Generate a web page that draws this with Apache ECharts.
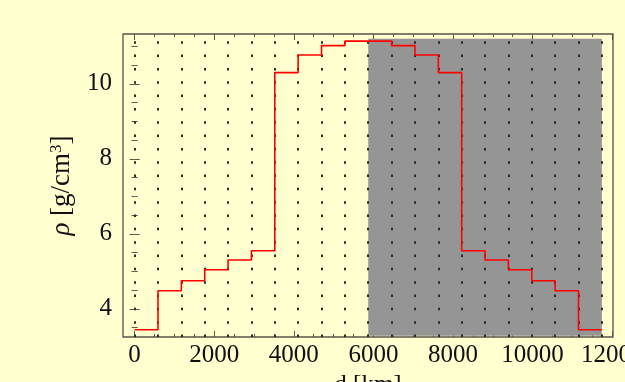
<!DOCTYPE html>
<html>
<head>
<meta charset="utf-8">
<script src="https://cdn.jsdelivr.net/npm/echarts@6/dist/echarts.min.js"></script>
<style>
html,body{margin:0;padding:0;background:#ffffd0;}
#chart{width:625px;height:382px;}
</style>
</head>
<body>
<div id="chart"></div>
<script>
// ---- data ----
const layerBoundariesKm = [0, 587, 1174, 1761, 2348, 2935, 3522, 4109, 4696, 5283, 5870,
  6457, 7044, 7631, 8218, 8805, 9392, 9979, 10566, 11153, 11740];
const layerDensity = [3.44, 4.48, 4.75, 5.04, 5.30, 5.55, 10.30, 10.77, 11.02, 11.14,
  11.14, 11.02, 10.77, 10.30, 5.55, 5.30, 5.04, 4.75, 4.48, 3.44];
const shadedFromKm = 5870;
const shadedToKm = 11740;
const shadedTop = 11.2;
const shadedBottom = 3.28;
const xTickLabels = [0, 2000, 4000, 6000, 8000, 10000, 12000];
const xMinorTicks = [500, 1000, 1500, 2500, 3000, 3500, 4500, 5000, 5500, 6500, 7000, 7500,
  8500, 9000, 9500, 10500, 11000, 11500];
const yTickLabels = [4, 6, 8, 10];
const yMinorTicks = [3.5, 4.5, 5, 5.5, 6.5, 7, 7.5, 8.5, 9, 9.5, 10.5, 11];
const xRange = [-292, 12020];
const yRange = [3.248, 11.33];

// ---- build ----
const stepPoints = layerDensity.map((v, i) => [layerBoundariesKm[i], v]);
stepPoints.push([layerBoundariesKm[layerBoundariesKm.length - 1], layerDensity[layerDensity.length - 1]]);

const FONT = 'Liberation Serif';
const frameColor = '#55554a';

function xAx(position, ticks, len, withLabels) {
  return {
    type: 'value', position: position, min: xRange[0], max: xRange[1],
    axisLine: {show: false},
    splitLine: {show: false},
    axisTick: {show: true, inside: true, length: len, customValues: ticks,
      lineStyle: {color: frameColor, width: 1}},
    axisLabel: withLabels ? {show: true, customValues: ticks, margin: 6,
      formatter: v => String(v),
      fontFamily: FONT, fontSize: 25, color: '#111'} : {show: false},
  };
}
function yAx(position, ticks, len, withLabels) {
  return {
    type: 'value', position: position, min: yRange[0], max: yRange[1],
    axisLine: {show: false},
    splitLine: {show: false},
    axisTick: {show: true, inside: true, length: len, customValues: ticks,
      lineStyle: {color: frameColor, width: 1}},
    axisLabel: withLabels ? {show: true, customValues: ticks, margin: 11,
      formatter: v => String(v),
      fontFamily: FONT, fontSize: 25, color: '#111'} : {show: false},
  };
}

const xAxes = [
  Object.assign(xAx('bottom', xTickLabels, 6, true), {
    name: 'd [km]', nameLocation: 'middle', nameGap: 35,
    nameTextStyle: {fontFamily: FONT, fontSize: 25, color: '#111'}
  }),
  xAx('bottom', xMinorTicks, 3, false),
  xAx('top', xTickLabels, 6, false),
  xAx('top', xMinorTicks, 3, false),
];
const yAxes = [
  Object.assign(yAx('left', yTickLabels, 5, true), {
    name: '{i|ρ} [g/cm{s|3}]', nameLocation: 'middle', nameGap: 48, nameRotate: 90,
    nameTextStyle: {fontFamily: FONT, fontSize: 27, color: '#111',
      rich: {
        i: {fontFamily: FONT, fontSize: 27, fontStyle: 'italic', color: '#111'},
        s: {fontFamily: FONT, fontSize: 17, color: '#111', verticalAlign: 'top'}
      }}
  }),
  yAx('left', yMinorTicks, 3, false),
  yAx('right', yTickLabels, 5, false),
  yAx('right', yMinorTicks, 3, false),
];

const chart = echarts.init(document.getElementById('chart'), null, {renderer: 'canvas'});
chart.setOption({
  animation: false,
  backgroundColor: '#ffffd0',
  grid: {left: 123, right: 12, top: 34, bottom: 45, show: true,
    borderColor: frameColor, borderWidth: 1.3, backgroundColor: 'transparent',
    outerBoundsMode: 'none'},
  xAxis: xAxes,
  yAxis: yAxes,
  series: [
    {
      name: 'shade', type: 'line', data: [], xAxisIndex: 0, yAxisIndex: 0,
      silent: true,
      markArea: {silent: true, itemStyle: {color: '#959595'},
        data: [[{xAxis: shadedFromKm, yAxis: shadedBottom}, {xAxis: shadedToKm, yAxis: shadedTop}]]},
      markLine: {silent: true, symbol: 'none', z: 1.5, label: {show: false},
        lineStyle: {color: '#2a2a2a', width: 2, type: [2.5, 10.83], dashOffset: 0},
        data: layerBoundariesKm.map(v => ({xAxis: v}))}
    },
    {
      name: 'density', type: 'line', step: 'end', data: stepPoints,
      xAxisIndex: 0, yAxisIndex: 0, z: 3,
      showSymbol: false, symbol: 'none',
      lineStyle: {color: '#ff0000', width: 1.6}
    }
  ]
});
</script>
</body>
</html>
